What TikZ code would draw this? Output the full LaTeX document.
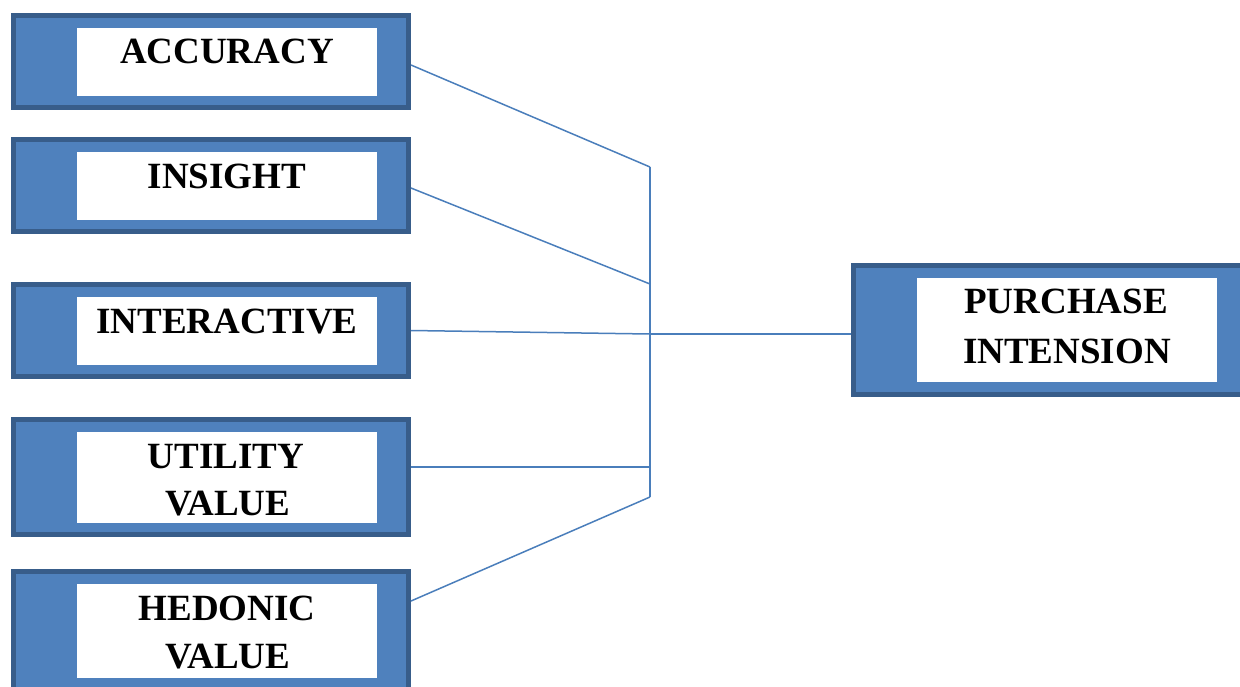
\documentclass[tikz,border=0pt]{standalone}
\usepackage{fontspec}
\setmainfont{Liberation Serif}
\definecolor{boxfill}{HTML}{4F81BD}
\definecolor{boxedge}{HTML}{385D8A}
\definecolor{linkcol}{HTML}{4A7EBB}
\begin{document}
\begin{tikzpicture}[x=1pt,y=-1pt,
  outerbox/.style={draw=boxedge,fill=boxfill,line width=5pt,minimum width=395pt,inner sep=0pt},
  innerbox/.style={fill=white,draw=none,minimum width=300pt,inner sep=0pt,outer sep=0pt},
  lbl/.style={font=\bfseries\fontsize{37}{44}\selectfont,anchor=base,inner sep=0pt,text=black},
  link/.style={draw=linkcol,line width=1.5pt}]
\clip (0,0) rectangle (1240,686);
\fill[white] (0,0) rectangle (1240,686);
% left boxes
\node[outerbox,minimum height=92pt] (b1) at (211,61.5) {};
\node[innerbox,minimum height=68pt] (w1) at (227,62) {};
\node[lbl] (t1) at (227,63) {ACCURACY};

\node[outerbox,minimum height=92pt] (b2) at (211,185.5) {};
\node[innerbox,minimum height=68pt] (w2) at (227,186) {};
\node[lbl] (t2) at (227,188) {INSIGHT};

\node[outerbox,minimum height=92pt] (b3) at (211,330.5) {};
\node[innerbox,minimum height=68pt] (w3) at (227,331) {};
\node[lbl] (t3) at (227,333) {INTERACTIVE};

\node[outerbox,minimum height=115pt] (b4) at (211,477) {};
\node[innerbox,minimum height=91pt] (w4) at (227,477.5) {};
\node[lbl] (t4a) at (226,468) {UTILITY};
\node[lbl] (t4b) at (228,515) {VALUE};

\node[outerbox,minimum height=130pt] (b5) at (211,636.5) {};
\node[innerbox,minimum height=94pt] (w5) at (227,631) {};
\node[lbl] (t5a) at (227,620) {HEDONIC};
\node[lbl] (t5b) at (228,668) {VALUE};

% right box
\node[outerbox,minimum height=129pt] (p) at (1050.5,330) {};
\node[innerbox,minimum height=104pt] (wp) at (1067,330) {};
\node[lbl] (tpa) at (1066,313) {PURCHASE};
\node[lbl] (tpb) at (1067,363) {INTENSION};

% junction
\coordinate (j1) at (650,167);
\coordinate (j2) at (650,284);
\coordinate (j3) at (650,334);
\coordinate (j4) at (650,467);
\coordinate (j5) at (650,497);

\draw[link] (j1) -- (j5);
\draw[link] ([yshift=-3.5pt]b1.east) -- (j1);
\draw[link] ([yshift=-2.5pt]b2.east) -- (j2);
\draw[link] (b3.east) -- (j3);
\draw[link] ([yshift=10pt]b4.east) -- (j4);
\draw[link] ([yshift=35.5pt]b5.east) -- (j5);
\draw[link] (j3) -- ([yshift=-4pt]p.west);
\end{tikzpicture}
\end{document}
